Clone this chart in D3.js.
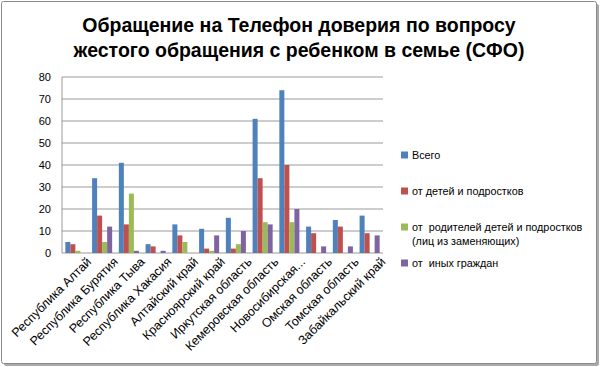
<!DOCTYPE html>
<html><head><meta charset="utf-8">
<script src="https://cdn.jsdelivr.net/npm/d3@7"></script>
<style>body{margin:0;background:#fff}svg{display:block}text{font-family:"Liberation Sans","DejaVu Sans",sans-serif}</style>
</head><body>
<script>
const categories = ["Республика Алтай","Республика Бурятия","Республика Тыва","Республика Хакасия","Алтайский край","Красноярский край","Иркутская область","Кемеровская область","Новосибирская...","Омская область","Томская область","Забайкальский край"];
const seriesNames = ["Всего","от детей и подростков","от  родителей детей и подростков (лиц из заменяющих)","от  иных граждан"];
const total    = [5,34,41,4,13,11,16,61,74,12,15,17];
const children = [4,17,13,3,8,2,2,34,40,9,12,9];
const parents  = [1,5,27,0,5,1,4,14,14,0,0,0];
const others   = [0,12,1,1,0,8,10,13,20,3,3,8];
const yTicks = [0,10,20,30,40,50,60,70,80];
const colors = ["#4F81BD","#C0504D","#9BBB59","#8064A2"];
const series = [total, children, parents, others];

(function(){
const W=600,H=367;
const svg=d3.select("body").append("svg").attr("width",W).attr("height",H);
svg.append("rect").attr("x",4).attr("y",4).attr("width",595).attr("height",362).attr("fill","#aaa").attr("rx",2);
svg.append("rect").attr("x",1.5).attr("y",1.5).attr("width",595).attr("height",362).attr("fill","#fff").attr("stroke","#8a8a8a").attr("stroke-width",1).attr("rx",2);

svg.append("text").attr("x",299).attr("y",32).attr("text-anchor","middle").attr("font-size",19.5).attr("font-weight","bold").text("Обращение на Телефон доверия по вопросу");
svg.append("text").attr("x",299).attr("y",57).attr("text-anchor","middle").attr("font-size",19.5).attr("font-weight","bold").text("жестого обращения с ребенком в семье (СФО)");

const pl=62,pr=383,pt=77,pb=253;
const x=d3.scaleBand().domain(categories).range([pl,pr]).paddingInner(0.25).paddingOuter(0.125);
const xs=d3.scaleBand().domain(d3.range(4)).range([0,x.bandwidth()]);
const y=d3.scaleLinear().domain([0,80]).range([pb,pt]);

const g=svg.append("g");
g.selectAll("line.grid").data(yTicks).enter().append("line")
 .attr("x1",pl).attr("x2",pr).attr("y1",d=>y(d)).attr("y2",d=>y(d))
 .attr("stroke","#9a9a9a").attr("stroke-width",1);
g.append("line").attr("x1",pl).attr("x2",pl).attr("y1",pt).attr("y2",pb).attr("stroke","#9a9a9a");

const yAxis=d3.axisLeft(y).tickValues(yTicks).tickSize(0).tickPadding(11);
const ya=svg.append("g").attr("transform",`translate(${pl},0)`).call(yAxis);
ya.select(".domain").remove();
ya.selectAll("text").attr("font-size",11).attr("fill","#000").style("font-family","Liberation Sans, sans-serif");

series.forEach((s,i)=>{
  g.selectAll(null).data(s).enter().append("rect")
   .attr("x",(d,j)=>x(categories[j])+xs(i))
   .attr("y",d=>y(d)).attr("width",xs.bandwidth()).attr("height",d=>pb-y(d))
   .attr("fill",colors[i]);
});

const xAxis=d3.axisBottom(x).tickSize(0).tickPadding(6);
const xa=svg.append("g").attr("transform",`translate(0,${pb})`).call(xAxis);
xa.select(".domain").remove();
xa.selectAll("text").attr("font-size",12.5).attr("fill","#000").style("font-family","Liberation Sans, sans-serif")
  .attr("text-anchor","end").attr("dx","0.4em").attr("dy","1em").attr("transform","rotate(-45)");

const legY=[[155],[191],[227,241],[263]];
const legLines=[["Всего"],["от детей и подростков"],["от  родителей детей и подростков","(лиц из заменяющих)"],["от  иных граждан"]];
legLines.forEach((lines,i)=>{
  svg.append("rect").attr("x",401).attr("y",legY[i][0]-3.5).attr("width",7).attr("height",7).attr("fill",colors[i]);
  lines.forEach((t,k)=>{
    svg.append("text").attr("x",412).attr("y",legY[i][k]+4).attr("font-size",10.8).style("white-space","pre").text(t);
  });
});
})();
</script>
</body></html>
